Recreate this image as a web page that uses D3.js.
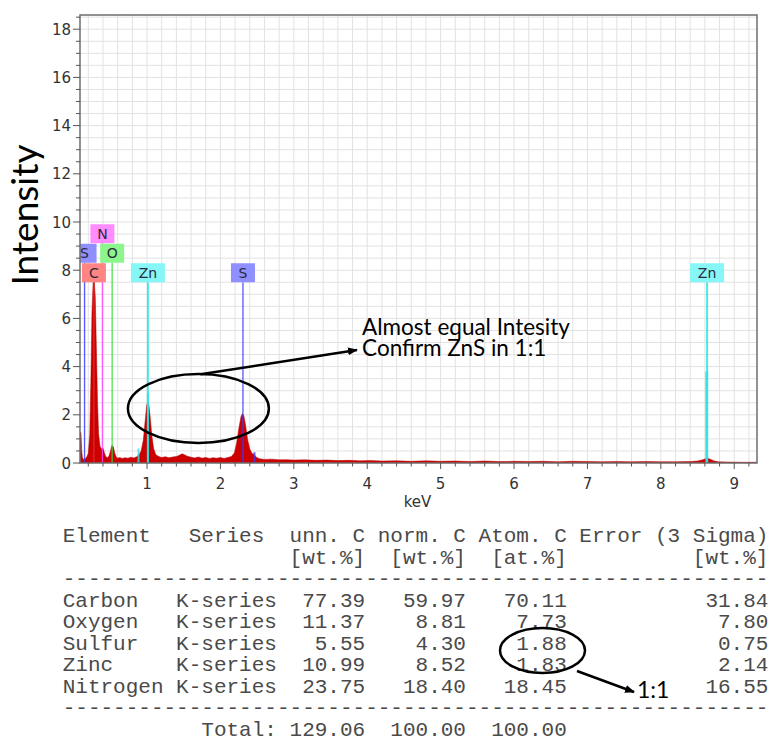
<!DOCTYPE html>
<html>
<head>
<meta charset="utf-8">
<style>
  body { margin: 0; background: #fff; }
  svg text.pre { white-space: pre; }
</style>
</head>
<body>
<div id="chart"></div>
<script src="https://d3js.org/d3.v7.min.js"></script>
<script>
// ---------------------------------------------------------------- data
// EDS spectrum (keV, intensity)
var spectrumKeV = [0.087, 0.10, 0.11, 0.12, 0.14, 0.16, 0.18, 0.20, 0.22, 0.235, 0.25, 0.265, 0.28, 0.295, 0.31, 0.325, 0.34, 0.36, 0.38, 0.40,
  0.42, 0.44, 0.46, 0.48, 0.50, 0.52, 0.54, 0.56, 0.58, 0.60, 0.63, 0.66, 0.70, 0.74, 0.78, 0.82, 0.86, 0.89, 0.92, 0.95,
  0.975, 0.995, 1.01, 1.025, 1.045, 1.065, 1.09, 1.12, 1.16, 1.20, 1.25, 1.30, 1.35, 1.40, 1.44, 1.48, 1.51, 1.55, 1.60, 1.65,
  1.70, 1.75, 1.80, 1.85, 1.90, 1.95, 2.00, 2.05, 2.10, 2.15, 2.19, 2.22, 2.25, 2.28, 2.30, 2.32, 2.345, 2.37, 2.40, 2.43,
  2.46, 2.49, 2.53, 2.60, 2.70, 2.80, 2.90, 3.00, 3.15, 3.30, 3.45, 3.60, 3.75, 3.90, 4.05, 4.20, 4.40, 4.60, 4.80, 5.00,
  5.20, 5.40, 5.60, 5.80, 6.00, 6.20, 6.40, 6.60, 6.80, 7.00, 7.20, 7.40, 7.60, 7.80, 8.00, 8.20, 8.40, 8.50, 8.56, 8.60,
  8.64, 8.68, 8.72, 8.78, 8.90, 9.10, 9.31];
var spectrumCounts = [1.30, 1.25, 0.50, 0.22, 0.14, 0.18, 0.26, 0.40, 1.20, 3.40, 6.20, 7.45, 7.60, 6.90, 4.80, 2.60, 1.20, 0.70, 0.58, 0.62,
  0.42, 0.26, 0.22, 0.28, 0.48, 0.72, 0.68, 0.42, 0.26, 0.20, 0.23, 0.19, 0.22, 0.20, 0.24, 0.21, 0.26, 0.34, 0.50, 0.95,
  1.75, 2.38, 2.55, 2.42, 1.85, 1.15, 0.60, 0.34, 0.27, 0.23, 0.26, 0.22, 0.25, 0.27, 0.32, 0.38, 0.34, 0.28, 0.24, 0.21,
  0.25, 0.20, 0.23, 0.19, 0.22, 0.20, 0.23, 0.19, 0.23, 0.27, 0.42, 0.82, 1.42, 1.92, 2.05, 1.95, 1.52, 0.98, 0.58, 0.40,
  0.34, 0.24, 0.18, 0.15, 0.16, 0.13, 0.14, 0.12, 0.13, 0.11, 0.12, 0.10, 0.11, 0.09, 0.10, 0.08, 0.09, 0.07, 0.09, 0.07,
  0.08, 0.06, 0.08, 0.06, 0.07, 0.06, 0.07, 0.05, 0.07, 0.06, 0.05, 0.06, 0.05, 0.06, 0.05, 0.05, 0.06, 0.08, 0.12, 0.17,
  0.20, 0.15, 0.09, 0.05, 0.04, 0.03, 0.03];

// element line markers
var markerNames = ["S", "C", "N", "O", "Zn", "S", "Zn"];
var markerKeV   = [0.149, 0.277, 0.392, 0.525, 1.012, 2.307, 8.630];
var markerRow   = [1, 0, 2, 1, 0, 0, 0];

// short secondary lines (keV, height)
var minorNames  = ["Zn", "Zn", "S", "Zn"];
var minorKeV    = [0.884, 1.012, 2.464, 8.625];
var minorHeight = [0.6, 2.9, 0.45, 3.8];

// axis ticks
var xTicks = [1, 2, 3, 4, 5, 6, 7, 8, 9];
var yTicks = [0, 2, 4, 6, 8, 10, 12, 14, 16, 18];

// quantification table
var tableElements = ["Carbon", "Oxygen", "Sulfur", "Zinc", "Nitrogen"];
var tableSeries   = ["K-series", "K-series", "K-series", "K-series", "K-series"];
var unnC   = ["77.39", "11.37", "5.55", "10.99", "23.75"];
var normC  = ["59.97", "8.81", "4.30", "8.52", "18.40"];
var atomC  = ["70.11", "7.73", "1.88", "1.83", "18.45"];
var errorC = ["31.84", "7.80", "0.75", "2.14", "16.55"];
var totals = ["129.06", "100.00", "100.00"];

// ---------------------------------------------------------------- styles
var lineColor = { S: "#3b3bff", C: "#e03030", N: "#ff40ff", O: "#33dd33", Zn: "#2fe3e3" };
var boxColor  = { S: "#8f8fff", C: "#ff8585", N: "#ff8cff", O: "#8cf58c", Zn: "#86f6f6" };

var width = 769, height = 740;
var plot = { left: 80, top: 15, right: 757, bottom: 463 };

var svg = d3.select("#chart").append("svg")
    .attr("width", width)
    .attr("height", height);

var x = d3.scaleLinear().domain([0.087, 9.31]).range([plot.left, plot.right]);
var y = d3.scaleLinear().domain([0, 18.59]).range([plot.bottom, plot.top]);

svg.append("clipPath").attr("id", "plotclip")
  .append("rect")
    .attr("x", plot.left).attr("y", plot.top)
    .attr("width", plot.right - plot.left).attr("height", plot.bottom - plot.top);

//--------------------------------------------------------- grid
var grid = svg.append("g").attr("clip-path", "url(#plotclip)");
grid.selectAll(".vg").data(d3.range(0.2, 9.31, 0.2)).enter().append("line")
    .attr("x1", d => x(d)).attr("x2", d => x(d))
    .attr("y1", plot.top).attr("y2", plot.bottom)
    .style("stroke", "#e2e2e2").style("stroke-width", 1);
grid.selectAll(".hg").data(d3.range(0.5, 18.6, 0.5)).enter().append("line")
    .attr("x1", plot.left).attr("x2", plot.right)
    .attr("y1", d => y(d)).attr("y2", d => y(d))
    .style("stroke", "#e2e2e2").style("stroke-width", 1);

//--------------------------------------------------------- spectrum
var spectrum = spectrumKeV.map((k, i) => ({ k: k, v: spectrumCounts[i] }));
var area = d3.area()
    .x(d => x(d.k))
    .y0(y(0))
    .y1(d => y(d.v));

var pg = svg.append("g").attr("clip-path", "url(#plotclip)");
pg.append("path")
    .datum(spectrum)
    .attr("d", area)
    .style("fill", "#cc0000")
    .style("stroke", "#b30000")
    .style("stroke-width", 0.5);

//--------------------------------------------------------- element lines + labels
var labelTop = 7.5, rowH = 19.5, boxH = 19;

pg.selectAll(".minor").data(minorKeV).enter().append("line")
    .attr("x1", d => x(d)).attr("x2", d => x(d))
    .attr("y1", y(0))
    .attr("y2", (d, i) => y(minorHeight[i]))
    .style("stroke", (d, i) => lineColor[minorNames[i]])
    .style("stroke-width", (d, i) => i == 3 ? 3 : 2)
    .style("opacity", 0.8);

pg.selectAll(".mline").data(markerKeV).enter().append("line")
    .attr("x1", d => x(d)).attr("x2", d => x(d))
    .attr("y1", y(0))
    .attr("y2", (d, i) => y(labelTop) - markerRow[i] * rowH)
    .style("stroke", (d, i) => lineColor[markerNames[i]])
    .style("stroke-width", (d, i) => markerNames[i] == "Zn" ? 2 : 1.3)
    .style("opacity", 0.85);

var labels = pg.selectAll(".mlabel").data(markerKeV).enter().append("g")
    .attr("transform", (d, i) => "translate(" + x(d) + "," + (y(labelTop) - markerRow[i] * rowH) + ")");
labels.append("rect")
    .attr("x", (d, i) => markerNames[i] == "Zn" ? -17 : -12)
    .attr("y", -boxH)
    .attr("width", (d, i) => markerNames[i] == "Zn" ? 34 : 24)
    .attr("height", boxH)
    .style("fill", (d, i) => boxColor[markerNames[i]]);
labels.append("text")
    .attr("text-anchor", "middle")
    .attr("y", -4.5)
    .style("font-family", "DejaVu Sans")
    .style("font-size", "14px")
    .style("fill", "#2a2a3a")
    .text((d, i) => markerNames[i]);

//--------------------------------------------------------- frame + axes
svg.append("rect")
    .attr("x", plot.left).attr("y", plot.top)
    .attr("width", plot.right - plot.left).attr("height", plot.bottom - plot.top)
    .style("fill", "none").style("stroke", "#6e6e6e").style("stroke-width", 1.5);

var xAxis = svg.append("g").attr("transform", "translate(0," + plot.bottom + ")");
xAxis.selectAll(".xm").data(d3.range(0.2, 9.31, 0.2)).enter().append("line")
    .attr("x1", d => x(d)).attr("x2", d => x(d))
    .attr("y1", 0).attr("y2", d => Math.abs(d - Math.round(d)) < 0.01 ? 6 : 3.5)
    .style("stroke", "#555").style("stroke-width", 1);
xAxis.selectAll(".xl").data(xTicks).enter().append("text")
    .attr("x", d => x(d)).attr("y", 26)
    .attr("text-anchor", "middle")
    .style("font-family", "DejaVu Sans").style("font-size", "15px").style("fill", "#333")
    .text(d => d);

var yAxis = svg.append("g").attr("transform", "translate(" + plot.left + ",0)");
yAxis.selectAll(".ym").data(d3.range(0, 18.6, 0.5)).enter().append("line")
    .attr("y1", d => y(d)).attr("y2", d => y(d))
    .attr("x1", d => d % 2 == 0 ? -7 : -4).attr("x2", 0)
    .style("stroke", "#555").style("stroke-width", 1);
yAxis.selectAll(".yl").data(yTicks).enter().append("text")
    .attr("x", -9).attr("y", d => y(d) + 5.5)
    .attr("text-anchor", "end")
    .style("font-family", "DejaVu Sans").style("font-size", "15px").style("fill", "#333")
    .text(d => d);

svg.append("text")
    .attr("x", (plot.left + plot.right) / 2 - 1).attr("y", 507)
    .attr("text-anchor", "middle")
    .style("font-family", "DejaVu Sans").style("font-size", "15px").style("fill", "#333")
    .text("keV");

svg.append("text")
    .attr("transform", "translate(38,215) rotate(-90)")
    .attr("text-anchor", "middle")
    .style("font-family", "Lato").style("font-size", "37px").style("fill", "#000")
    .text("Intensity");

//--------------------------------------------------------- annotations
var defs = svg.append("defs");
defs.append("marker")
    .attr("id", "arrow")
    .attr("viewBox", "0 0 10 10")
    .attr("refX", 9).attr("refY", 5)
    .attr("markerWidth", 4).attr("markerHeight", 4)
    .attr("orient", "auto")
  .append("path")
    .attr("d", "M0,1 L10,5 L0,9 z")
    .style("fill", "#000");

svg.append("ellipse")
    .attr("cx", x(1.70)).attr("cy", y(2.26))
    .attr("rx", x(1.70) - x(0.74)).attr("ry", y(0.83) - y(2.26))
    .style("fill", "none").style("stroke", "#000").style("stroke-width", 2.5);
svg.append("line")
    .attr("x1", x(1.73)).attr("y1", y(3.68))
    .attr("x2", x(3.86)).attr("y2", y(4.69))
    .attr("marker-end", "url(#arrow)")
    .style("stroke", "#000").style("stroke-width", 2.5);
svg.append("text")
    .attr("x", x(3.93)).attr("y", y(5.33))
    .style("font-family", "Lato").style("font-size", "22.5px").style("fill", "#000")
    .text("Almost equal Intesity");
svg.append("text")
    .attr("x", x(3.93)).attr("y", y(4.42))
    .style("font-family", "Lato").style("font-size", "22.5px").style("fill", "#000")
    .text("Confirm ZnS in 1:1");

//--------------------------------------------------------- table
var tx = 62.7, ty = 542, lh = 21.55;
var lines = [];
lines.push("Element".padEnd(10) + "Series" + "unn. C".padStart(8) + " norm. C" + " Atom. C" + " Error (3 Sigma)");
lines.push("".padEnd(18) + "[wt.%]" + "[wt.%]".padStart(8) + "[at.%]".padStart(8) + "[wt.%]".padStart(16));
lines.push("-".repeat(56));
tableElements.forEach(function(e, i) {
  lines.push(e.padEnd(9) + tableSeries[i] + unnC[i].padStart(7) + normC[i].padStart(8) +
             atomC[i].padStart(8) + errorC[i].padStart(16));
});
lines.push("-".repeat(56));
lines.push("Total:".padStart(17) + totals[0].padStart(7) + totals[1].padStart(8) + totals[2].padStart(8));

svg.append("g").selectAll("text").data(lines).enter().append("text")
    .attr("class", "pre")
    .attr("xml:space", "preserve")
    .attr("x", tx)
    .attr("y", (d, i) => ty + i * lh)
    .style("font-family", "Liberation Mono")
    .style("font-size", "21px")
    .style("fill", "#4a4a4a")
    .text(d => d);

svg.append("ellipse")
    .attr("cx", 542.5).attr("cy", 650.5)
    .attr("rx", 42.5).attr("ry", 22.5)
    .style("fill", "none").style("stroke", "#000").style("stroke-width", 2.5);
svg.append("line")
    .attr("x1", 577).attr("y1", 671)
    .attr("x2", 634).attr("y2", 692)
    .attr("marker-end", "url(#arrow)")
    .style("stroke", "#000").style("stroke-width", 2.5);
svg.append("text")
    .attr("x", 637).attr("y", 698)
    .style("font-family", "Lato").style("font-size", "23px").style("fill", "#000")
    .text("1:1");
</script>
</body>
</html>
